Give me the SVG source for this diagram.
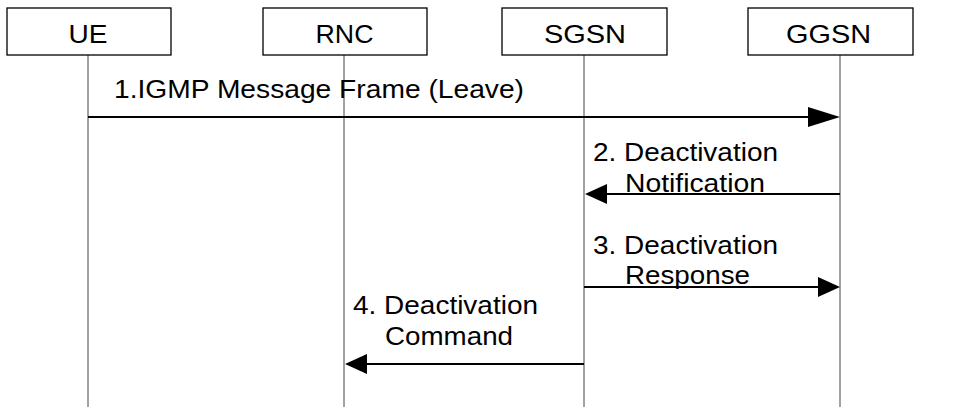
<svg xmlns="http://www.w3.org/2000/svg" width="957" height="407" viewBox="0 0 957 407">
<style>
.box{fill:#fff;stroke:#000;stroke-width:1.3}
.life{stroke:#444;stroke-width:1}
.msg{stroke:#000;stroke-width:2;fill:none}
text{font-family:"Liberation Sans",Arial,sans-serif;font-size:26px;fill:#000}
.c{text-anchor:middle}
</style>
<defs>
<marker id="ah" markerUnits="userSpaceOnUse" markerWidth="23" markerHeight="21" refX="0" refY="10" orient="auto" viewBox="0 0 23 21">
<path d="M0,0 L22,10 L0,20 z" fill="#000"/>
</marker>
<marker id="ahl" markerUnits="userSpaceOnUse" markerWidth="33" markerHeight="21" refX="0" refY="10" orient="auto" viewBox="0 0 33 21">
<path d="M0,0 L32,10 L0,20 z" fill="#000"/>
</marker>
</defs>
<g id="lifelines">
<line class="life" x1="88" y1="55" x2="88" y2="407"/>
<line class="life" x1="344" y1="55" x2="344" y2="407"/>
<line class="life" x1="584" y1="55" x2="584" y2="407"/>
<line class="life" x1="840" y1="55" x2="840" y2="407"/>
</g>
<g id="UE"><rect class="box" x="7" y="8" width="164" height="47"/><text class="c" x="88" y="43" textLength="39" lengthAdjust="spacingAndGlyphs">UE</text></g>
<g id="RNC"><rect class="box" x="263" y="8" width="164" height="47"/><text class="c" x="344.5" y="43" textLength="58" lengthAdjust="spacingAndGlyphs">RNC</text></g>
<g id="SGSN"><rect class="box" x="502" y="8" width="165" height="47"/><text class="c" x="585" y="43" textLength="82" lengthAdjust="spacingAndGlyphs">SGSN</text></g>
<g id="GGSN"><rect class="box" x="748" y="8" width="165" height="47"/><text class="c" x="828.5" y="43" textLength="85" lengthAdjust="spacingAndGlyphs">GGSN</text></g>
<g id="connectors">
<line class="msg" x1="88" y1="117" x2="808" y2="117" marker-end="url(#ahl)"/>
<line class="msg" x1="840" y1="194" x2="607" y2="194" marker-end="url(#ah)"/>
<line class="msg" x1="584" y1="287" x2="818" y2="287" marker-end="url(#ah)"/>
<line class="msg" x1="584" y1="364" x2="367" y2="364" marker-end="url(#ah)"/>
</g>
<g id="labels">
<text x="114" y="98" textLength="410" lengthAdjust="spacingAndGlyphs">1.IGMP Message Frame (Leave)</text>
<text x="593" y="161" textLength="185" lengthAdjust="spacingAndGlyphs">2. Deactivation</text>
<text x="625" y="191.5" textLength="140" lengthAdjust="spacingAndGlyphs">Notification</text>
<text x="593" y="253.5" textLength="185" lengthAdjust="spacingAndGlyphs">3. Deactivation</text>
<text x="625" y="284" textLength="125" lengthAdjust="spacingAndGlyphs">Response</text>
<text x="353" y="314" textLength="185" lengthAdjust="spacingAndGlyphs">4. Deactivation</text>
<text x="385" y="345" textLength="128" lengthAdjust="spacingAndGlyphs">Command</text>
</g>
</svg>
